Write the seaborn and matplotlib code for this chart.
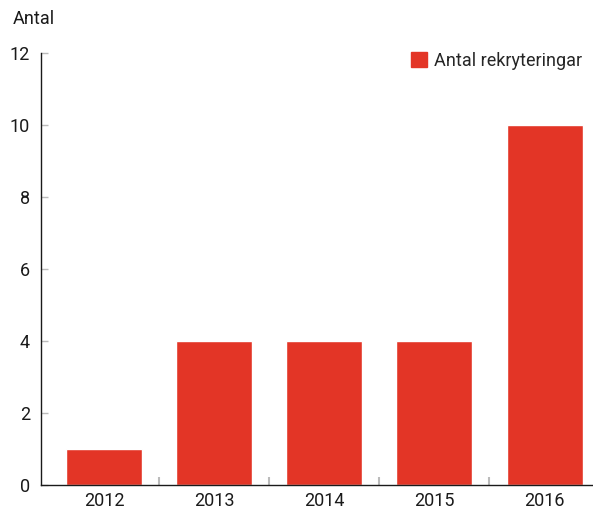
import matplotlib
matplotlib.use("Agg")
import matplotlib.pyplot as plt
import seaborn as sns
import pandas as pd
from matplotlib.patches import Patch
from matplotlib.ticker import FixedLocator

years = ["2012", "2013", "2014", "2015", "2016"]
values = [1, 4, 4, 4, 10]
series_name = "Antal rekryteringar"
y_label = "Antal"
y_ticks = [0, 2, 4, 6, 8, 10, 12]

sns.set_style("white")
plt.rcParams["font.family"] = ["Roboto", "DejaVu Sans"]

color = "#E33526"
df = pd.DataFrame({"year": years, "value": values})

fig = plt.figure(figsize=(5.93, 5.12), dpi=100)
ax = fig.add_axes([41/593, 27/512, 552/593, 432/512])
sns.barplot(data=df, x="year", y="value", color=color, width=0.69,
            saturation=1, ax=ax)
ax.set_xlim(-0.573, 4.44)
ax.set_ylim(0, 12)
ax.set_yticks(y_ticks)
ax.set_xlabel("")
ax.set_ylabel("")
for s in ["top", "right"]:
    ax.spines[s].set_visible(False)
for s in ["left", "bottom"]:
    ax.spines[s].set_color("#1a1a1a")
    ax.spines[s].set_linewidth(1.0)
ax.tick_params(axis="y", direction="in", length=5, color="#bbbbbb", width=1,
               labelsize=13, pad=8, labelcolor="#1a1a1a", left=True)
ax.tick_params(axis="x", which="major", length=0, labelsize=13, pad=5,
               labelcolor="#1a1a1a")
ax.xaxis.set_minor_locator(FixedLocator([i + 0.5 for i in range(len(years) - 1)]))
ax.tick_params(axis="x", which="minor", direction="in", length=6,
               color="#bbbbbb", width=1.5, bottom=True)
fig.text(13/593, 1 - 19/512, y_label, fontsize=13, color="#1a1a1a", va="center")
ax.legend(handles=[Patch(color=color, label=series_name)], loc="upper right",
          frameon=False, fontsize=13, handlelength=0.9, handleheight=0.9,
          handletextpad=0.4, bbox_to_anchor=(1.01, 1.04))
fig.savefig("out.png", dpi=100)
